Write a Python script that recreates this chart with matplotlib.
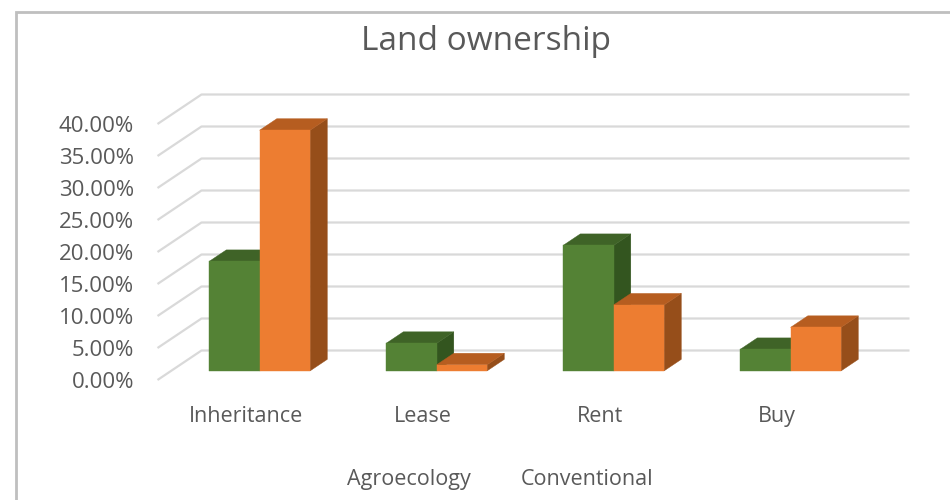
import matplotlib
matplotlib.use("Agg")
import matplotlib.pyplot as plt
from matplotlib.patches import Polygon
from matplotlib.lines import Line2D

plt.rcParams['font.family'] = ['Open Sans', 'DejaVu Sans']

categories = ["Inheritance", "Lease", "Rent", "Buy"]
series_names = ["Agroecology", "Conventional"]
agroecology = [17.1, 4.3, 19.6, 3.35]
conventional = [37.6, 0.95, 10.3, 6.8]
y_ticks = [0, 5, 10, 15, 20, 25, 30, 35, 40]

# front, top, side colours of the fake 3d bars
green = ["#548235", "#3f6327", "#33551f"]
orange = ["#ed7d31", "#b65d20", "#964e1a"]
grid_color = "#d9d9d9"
text_color = "#595959"
frame_color = "#bfbfbf"

W, H = 950, 500
px_per_cat = 177.0
px_per_pct = 6.4

# depth of the floor in data units
depth_x = 44 / px_per_cat
depth_y = 29.5 / px_per_pct
bar_w = 50.5 / px_per_cat
bar_front = 0.31
bar_back = 0.70

fig = plt.figure(figsize=(W / 100, H / 100), dpi=100, facecolor="white")

left, right, top, bottom = 157.5, 910, 95, 380
ax = fig.add_axes([left / W, 1 - bottom / H, (right - left) / W, (bottom - top) / H])
ax.set_xlim(-0.5, -0.5 + (right - left) / px_per_cat)
ax.set_ylim(0, (bottom - top) / px_per_pct)
for s in ax.spines.values():
    s.set_visible(False)
ax.patch.set_visible(False)

ax.set_xticks(range(len(categories)))
ax.set_xticklabels(categories, fontsize=15.5, color=text_color)
ax.set_yticks(y_ticks)
ax.set_yticklabels(["%.2f%%" % t for t in y_ticks], fontsize=16, color=text_color)
ax.tick_params(axis="x", length=0, pad=19)
ax.tick_params(axis="y", length=0, pad=17)

# gridlines run along the side wall then along the back wall
x0 = -0.5
x1 = -0.5 + len(categories)
for t in y_ticks:
    ax.plot([x0, x0 + depth_x, x1 + depth_x], [t, t + depth_y, t + depth_y],
            color=grid_color, lw=1.6, zorder=1, solid_capstyle="butt", clip_on=False)


def draw_bar(xleft, value, colors):
    dx0 = bar_front * depth_x
    dx1 = bar_back * depth_x
    y0 = bar_front * depth_y
    y1 = bar_back * depth_y
    xr = xleft + bar_w
    front = [(xleft + dx0, y0), (xr + dx0, y0), (xr + dx0, y0 + value), (xleft + dx0, y0 + value)]
    lid = [(xleft + dx0, y0 + value), (xr + dx0, y0 + value), (xr + dx1, y1 + value), (xleft + dx1, y1 + value)]
    side = [(xr + dx0, y0), (xr + dx1, y1), (xr + dx1, y1 + value), (xr + dx0, y0 + value)]
    for pts, c in [(side, colors[2]), (lid, colors[1]), (front, colors[0])]:
        ax.add_patch(Polygon(pts, closed=True, facecolor=c, edgecolor=c, lw=0.3, zorder=2))


for i in range(len(categories)):
    draw_bar(i - bar_w, agroecology[i], green)
    draw_bar(i, conventional[i], orange)

fig.text(486 / W, 1 - 41 / H, "Land ownership", fontsize=24, color=text_color,
         ha="center", va="center")

# legend text only, the swatches are not in the picture
fig.text(409 / W, 1 - 485 / H, series_names[0], fontsize=15.5, color=text_color,
         ha="center", va="baseline")
fig.text(587 / W, 1 - 485 / H, series_names[1], fontsize=15.5, color=text_color,
         ha="center", va="baseline")

# chart frame, only left and top edges show
fig.add_artist(Line2D([15.5 / W, 15.5 / W, 1], [0, 1 - 11.5 / H, 1 - 11.5 / H],
                      color=frame_color, lw=2, solid_joinstyle="miter"))

fig.savefig("out.png", dpi=100)
